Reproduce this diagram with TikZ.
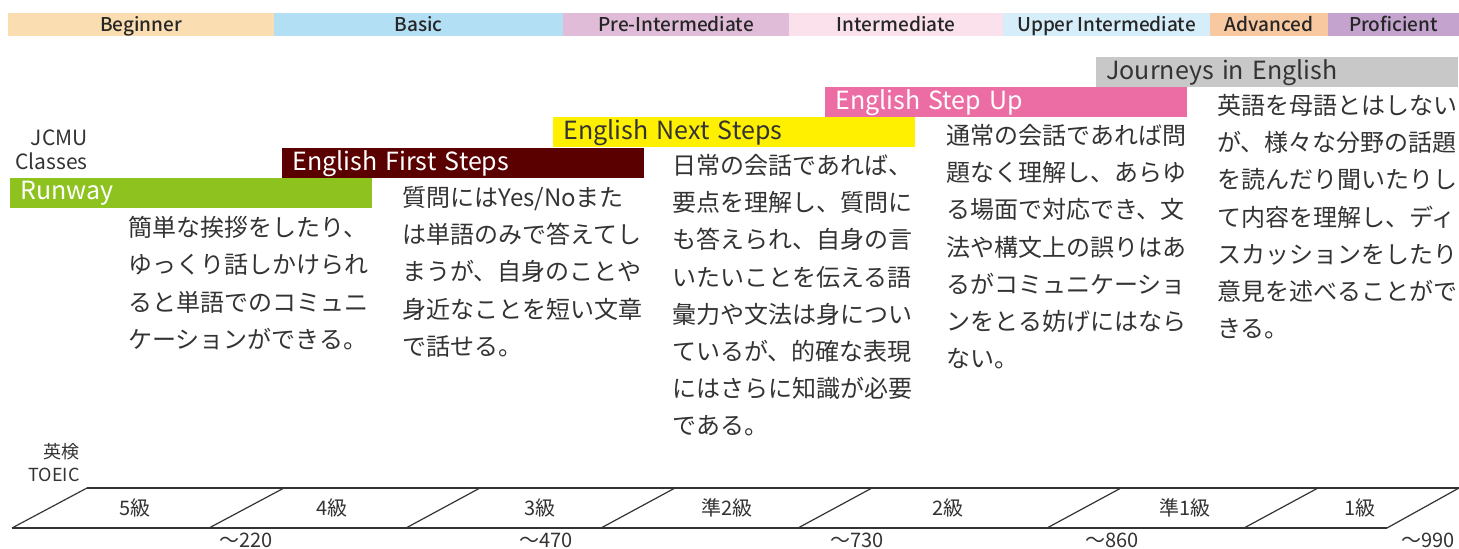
\documentclass[tikz,border=0pt]{standalone}
\usepackage{fontspec}
\setmainfont{Noto Sans CJK JP}
\newfontfamily\levelfont{Noto Sans CJK JP Medium}
\usetikzlibrary{positioning}

\definecolor{cBeginner}{HTML}{FADDB0}
\definecolor{cBasic}{HTML}{B3DFF5}
\definecolor{cPreInt}{HTML}{E0BCD8}
\definecolor{cInt}{HTML}{FAE1EB}
\definecolor{cUpper}{HTML}{D6EEF9}
\definecolor{cAdvanced}{HTML}{F8C8A0}
\definecolor{cProficient}{HTML}{C4A4CE}
\definecolor{cRunway}{HTML}{8DC21F}
\definecolor{cFirst}{HTML}{5A0000}
\definecolor{cNext}{HTML}{FFF000}
\definecolor{cStepUp}{HTML}{EC6DA4}
\definecolor{cJourneys}{HTML}{C8C8C8}
\definecolor{ink}{HTML}{333333}

\tikzset{
  levelbox/.style={minimum height=11.5pt, inner sep=0pt, outer sep=0pt,
    text height=7.5pt, text depth=0pt,
    font=\fontsize{9.5}{10}\levelfont, text=black!85},
  classbar/.style={anchor=north west, text width=171pt, align=left,
    inner xsep=5pt, inner ysep=0pt, minimum height=15pt,
    font=\fontsize{12.5}{14}\selectfont},
  desc/.style={anchor=north west, align=left, inner sep=0pt, text=ink,
    font=\fontsize{12}{18.6}\selectfont},
  grade/.style={font=\fontsize{10}{12}\selectfont, text=ink},
  scale line/.style={draw=ink, line width=0.6pt},
}

\begin{document}
\begin{tikzpicture}[x=0.5pt, y=-0.5pt]
\useasboundingbox (0,0) rectangle (1459,549);

% CEFR levels
\node[levelbox, anchor=north west, fill=cBeginner, minimum width=133pt] (beginner) at (8,13) {Beginner};
\node[levelbox, fill=cBasic, minimum width=144.5pt, right=0pt of beginner] (basic) {Basic};
\node[levelbox, fill=cPreInt, minimum width=113pt, right=0pt of basic] (preint) {Pre-Intermediate};
\node[levelbox, fill=cInt, minimum width=107pt, right=0pt of preint] (int) {Intermediate};
\node[levelbox, fill=cUpper, minimum width=103.5pt, right=0pt of int] (upper) {Upper Intermediate};
\node[levelbox, fill=cAdvanced, minimum width=59pt, right=0pt of upper] (advanced) {Advanced};
\node[levelbox, fill=cProficient, minimum width=65.5pt, right=0pt of advanced] (proficient) {Proficient};

% classes
\node[anchor=east, align=right, inner sep=0pt, text=ink, font=\fontsize{10.5}{12}\selectfont] (jcmu) at (88,150) {JCMU\\Classes};
\node[classbar, fill=cRunway, text=white] (runway) at (10,178) {Runway};
\node[classbar, fill=cFirst, text=white] (first) at (282,148) {English First Steps};
\node[classbar, fill=cNext, text=ink] (next) at (553,117) {English Next Steps};
\node[classbar, fill=cStepUp, text=white] (stepup) at (825,87) {English Step Up};
\node[classbar, fill=cJourneys, text=ink] (journeys) at (1096,57) {Journeys in English};

% descriptions
\node[desc] (descrunway) at (128,216) {簡単な挨拶をしたり、\\ゆっくり話しかけられ\\ると単語でのコミュニ\\ケーションができる。};
\node[desc] (descfirst) at (402,186) {質問にはYes/Noまた\\は単語のみで答えてし\\まうが、自身のことや\\身近なことを短い文章\\で話せる。};
\node[desc] (descnext) at (672,154) {日常の会話であれば、\\要点を理解し、質問に\\も答えられ、自身の言\\いたいことを伝える語\\彙力や文法は身につい\\ているが、的確な表現\\にはさらに知識が必要\\である。};
\node[desc] (descstepup) at (946,124) {通常の会話であれば問\\題なく理解し、あらゆ\\る場面で対応でき、文\\法や構文上の誤りはあ\\るがコミュニケーショ\\ンをとる妨げにはなら\\ない。};
\node[desc] (descjourneys) at (1217,94) {英語を母語とはしない\\が、様々な分野の話題\\を読んだり聞いたりし\\て内容を理解し、ディ\\スカッションをしたり\\意見を述べることがで\\きる。};

% Eiken / TOEIC scale
\node[anchor=east, align=right, inner sep=0pt, text=ink, font=\fontsize{9}{11.5}\selectfont] (eiken) at (80,463) {英検\\TOEIC};
\draw[scale line] (87,488) -- (1459,488);
\draw[scale line] (12,528) -- (1387,528);
\foreach \b/\t in {12/87, 209/284, 406/480, 601/675, 798/872, 1047/1121, 1244/1318, 1387/1459}
  \draw[scale line] (\b,528) -- (\t,488);

\node[grade] (g5) at (135,508) {5級};
\node[grade] (g4) at (332,508) {4級};
\node[grade] (g3) at (540,508) {3級};
\node[grade] (gp2) at (727,508) {準2級};
\node[grade] (g2) at (948,508) {2級};
\node[grade] (gp1) at (1185,508) {準1級};
\node[grade] (g1) at (1360,508) {1級};

\node[grade] (t220) at (246,540) {〜220};
\node[grade] (t470) at (546,540) {〜470};
\node[grade] (t730) at (857,540) {〜730};
\node[grade] (t860) at (1112,540) {〜860};
\node[grade] (t990) at (1428,540) {〜990};
\end{tikzpicture}
\end{document}
